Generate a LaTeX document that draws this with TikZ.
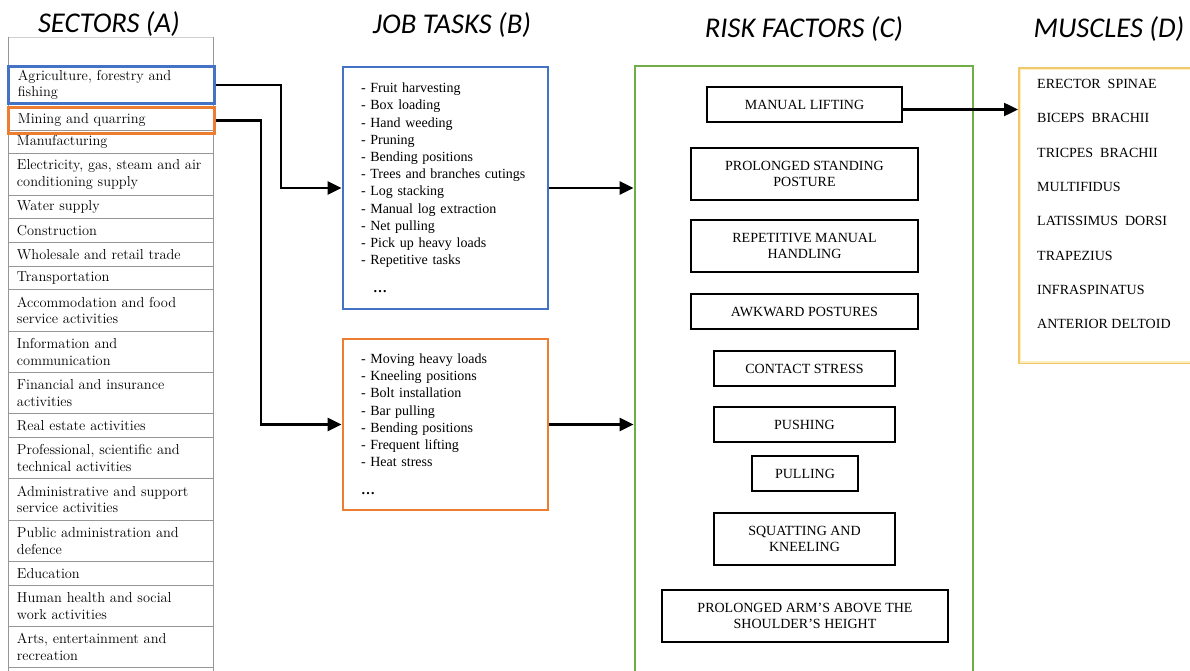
\documentclass[tikz,border=0pt]{standalone}
\usepackage{fontspec}
\newfontfamily\serifTNR{Liberation Serif}
\newfontfamily\headsans{Carlito}
\usetikzlibrary{arrows.meta}
\definecolor{secblue}{RGB}{68,114,196}
\definecolor{secorange}{RGB}{237,125,49}
\definecolor{riskgreen}{RGB}{112,173,71}
\definecolor{musgold}{RGB}{242,200,110}
\definecolor{muspale}{RGB}{255,240,190}
\definecolor{tablegray}{RGB}{150,150,150}
\begin{document}
\begin{tikzpicture}[x=1pt,y=-1pt,
  heading/.style={font=\headsans\itshape\fontsize{28.6}{34}\selectfont, inner sep=0pt},
  sector/.style={draw=tablegray, line width=0.9pt, minimum width=205pt, text width=188pt,
    inner xsep=8.5pt, inner ysep=0pt, align=left, anchor=north west,
    font=\fontsize{14.4}{16.8}\selectfont},
  pick/.style={sector, line width=2.8pt, minimum width=206pt, text width=187pt, inner xsep=9.5pt},
  taskbox/.style={draw, line width=2.8pt, minimum width=205pt, text width=169pt, inner xsep=18pt,
    align=left, font=\serifTNR\fontsize{14}{17.2}\selectfont},
  factor/.style={draw, line width=1.6pt, align=center, inner sep=0pt,
    font=\serifTNR\fontsize{14}{16.8}\selectfont},
  conn/.style={line width=2.4pt, -{Triangle[length=14pt,width=13pt]}},
]
\useasboundingbox (0,0) rectangle (1190,671);
\clip (0,0) rectangle (1190,671);

% ---------- headings ----------
\node[heading] (hA) at (109,24) {SECTORS (A)};
\node[heading] (hB) at (452,25) {JOB TASKS (B)};
\node[heading] (hC) at (804,29) {RISK FACTORS (C)};
\node[heading] (hD) at (1109,29) {MUSCLES (D)};

% ---------- sector table ----------
\draw[tablegray!45, line width=0.9pt] (8,37) -- (213,37);
\draw[tablegray, line width=0.9pt] (8,37) -- (8,131) (213,37) -- (213,131);
\node[sector, minimum height=23pt] (s3)  at (8,130) {Manufacturing};
\node[sector, minimum height=42pt] (s4)  at (8,153) {\mbox{Electricity, gas, steam and air}\\conditioning supply};
\node[sector, minimum height=23pt] (s5)  at (8,195) {Water supply};
\node[sector, minimum height=24pt] (s6)  at (8,218) {Construction};
\node[sector, minimum height=24pt] (s7)  at (8,242) {Wholesale and retail trade};
\node[sector, minimum height=23pt] (s8)  at (8,266) {Transportation};
\node[sector, minimum height=42pt] (s9)  at (8,289) {Accommodation and food\\service activities};
\node[sector, minimum height=41pt] (s10) at (8,331) {Information and\\communication};
\node[sector, minimum height=41pt] (s11) at (8,372) {Financial and insurance\\activities};
\node[sector, minimum height=24pt] (s12) at (8,413) {Real estate activities};
\node[sector, minimum height=41pt] (s13) at (8,437) {\mbox{Professional, scientific and}\\technical activities};
\node[sector, minimum height=42pt] (s14) at (8,478) {\mbox{Administrative and support}\\service activities};
\node[sector, minimum height=41pt] (s15) at (8,520) {Public administration and\\defence};
\node[sector, minimum height=24pt] (s16) at (8,561) {Education};
\node[sector, minimum height=41pt] (s17) at (8,585) {Human health and social\\work activities};
\node[sector, minimum height=41pt] (s18) at (8,626) {Arts, entertainment and\\recreation};
\draw[tablegray, line width=0.9pt] (8,667) -- (8,680) (213,667) -- (213,680);

\node[pick, draw=secblue, minimum height=37pt] (agri) at (7,65) {Agriculture, forestry and\\fishing};
\node[pick, draw=secorange, minimum height=26pt] (mining) at (7,106) {Mining and quarring};

% ---------- job tasks ----------
\node[taskbox, draw=secblue, minimum height=242pt] (jobA) at (445.5,188) {%
- Fruit harvesting\\
- Box loading\\
- Hand weeding\\
- Pruning\\
- Bending positions\\
- Trees and branches cutings\\
- Log stacking\\
- Manual log extraction\\
- Net pulling\\
- Pick up heavy loads\\
- Repetitive tasks\\[11pt]
\hspace*{12pt}\textbf{…}};
\node[taskbox, draw=secorange, minimum height=171pt] (jobB) at (445.5,424.5) {%
- Moving heavy loads\\
- Kneeling positions\\
- Bolt installation\\
- Bar pulling\\
- Bending positions\\
- Frequent lifting\\
- Heat stress\\[11pt]
\textbf{…}};

% ---------- risk factors ----------
\node[draw=riskgreen, line width=2.8pt, minimum width=338pt, minimum height=640pt] (risk) at (804,386) {};
\node[factor, minimum width=195pt, minimum height=35pt] (lift)    at (804.5,104.5) {MANUAL LIFTING};
\node[factor, minimum width=227pt, minimum height=52pt] (stand)   at (804.5,174) {PROLONGED STANDING\\POSTURE};
\node[factor, minimum width=227pt, minimum height=52pt] (rep)     at (804.5,246) {REPETITIVE MANUAL\\HANDLING};
\node[factor, minimum width=227pt, minimum height=35pt] (awk)     at (804.5,311.5) {AWKWARD POSTURES};
\node[factor, minimum width=181pt, minimum height=35pt] (contact) at (804.5,368.5) {CONTACT STRESS};
\node[factor, minimum width=181pt, minimum height=35pt] (push)    at (804.5,424.5) {PUSHING};
\node[factor, minimum width=106pt, minimum height=35pt] (pull)    at (805,473.5) {PULLING};
\node[factor, minimum width=181pt, minimum height=52pt] (squat)   at (804.5,539) {SQUATTING AND\\KNEELING};
\node[factor, minimum width=286pt, minimum height=52pt] (arm)     at (805,616) {PROLONGED ARM’S ABOVE THE\\SHOULDER’S HEIGHT};

% ---------- muscles ----------
\node[draw=musgold, line width=2.4pt, minimum width=200pt, minimum height=295pt, anchor=north west] (musc) at (1018,67) {};
\draw[muspale, line width=1.2pt] ([xshift=2.4pt,yshift=-2.4pt]musc.north west) rectangle ([xshift=-2.4pt,yshift=2.4pt]musc.south east);
\node[anchor=west, align=left, inner sep=0pt, font=\serifTNR\fontsize{14}{34.3}\selectfont] (muslist) at (1037,204) {%
ERECTOR~ SPINAE\\
BICEPS~ BRACHII\\
TRICPES~ BRACHII\\
MULTIFIDUS\\
LATISSIMUS~ DORSI\\
TRAPEZIUS\\
INFRASPINATUS\\
ANTERIOR DELTOID};

% ---------- connectors ----------
\draw[conn] (agri.east) -- ++(65,0) |- (jobA.west);
\draw[conn] (mining.east) -- ++(45,0) |- (jobB.west);
\draw[conn] (jobA.east) -- (jobA.east -| risk.west);
\draw[conn] (jobB.east) -- (jobB.east -| risk.west);
\draw[conn] ([yshift=-5pt]lift.east) -- ([yshift=-5pt]lift.east -| musc.west);
\end{tikzpicture}
\end{document}
